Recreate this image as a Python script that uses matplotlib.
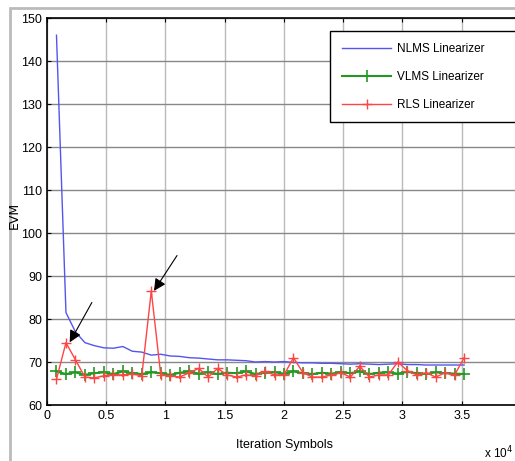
import matplotlib.pyplot as plt
from matplotlib.patches import Rectangle

plt.rcParams['font.family'] = ['Liberation Sans', 'DejaVu Sans']

# iteration symbols (x 10^4)
iters = [0.08, 0.16, 0.24, 0.32, 0.40, 0.48, 0.56, 0.64, 0.72, 0.80, 0.88,
         0.96, 1.04, 1.12, 1.20, 1.28, 1.36, 1.44, 1.52, 1.60, 1.68, 1.76,
         1.84, 1.92, 2.00, 2.08, 2.16, 2.24, 2.32, 2.40, 2.48, 2.56, 2.64,
         2.72, 2.80, 2.88, 2.96, 3.04, 3.12, 3.20, 3.28, 3.36, 3.44, 3.52]

nlms = [146, 81.5, 77, 74.5, 73.8, 73.3, 73.2, 73.6, 72.5, 72.3, 71.6,
        71.8, 71.4, 71.3, 71.0, 70.9, 70.7, 70.5, 70.5, 70.4, 70.3, 70.0,
        70.1, 70.0, 70.1, 69.9, 69.8, 69.8, 69.7, 69.7, 69.6, 69.5, 69.6,
        69.5, 69.4, 69.5, 69.6, 69.4, 69.4, 69.3, 69.3, 69.3, 69.3, 69.3]

vlms = [67.8, 67.2, 67.6, 67.0, 67.4, 67.6, 67.2, 67.8, 67.4, 67.2, 67.6,
        67.4, 67.0, 67.5, 67.8, 67.3, 67.6, 67.2, 67.5, 67.4, 67.8, 67.2,
        67.5, 67.6, 67.3, 67.8, 67.4, 67.2, 67.5, 67.3, 67.6, 67.4, 67.8,
        67.2, 67.5, 67.6, 67.3, 67.7, 67.4, 67.2, 67.6, 67.4, 67.3, 67.2]

rls = [66, 74.5, 70.5, 66.5, 66.3, 66.8, 67, 67, 67.2, 66.8, 86.5,
       67, 66.8, 66.5, 67.5, 68.5, 66.5, 68.5, 67, 66.5, 67, 66.8,
       67.8, 67, 67, 71, 67.5, 66.5, 66.5, 67, 67.5, 66.5, 69,
       66.5, 67, 67, 70, 68, 67, 67.5, 66.5, 67.5, 67, 71]

xticks = [0, 0.5, 1, 1.5, 2, 2.5, 3, 3.5]
xtick_labels = ['0', '0.5', '1', '1.5', '2', '2.5', '3', '3.5']

fig = plt.figure(figsize=(5.15, 4.61), dpi=100)
ax = fig.add_axes([47 / 515, 1 - 405 / 461, 474 / 515, 387 / 461])

ax.plot(iters, nlms, color='#5555ee', lw=1, label='NLMS Linearizer')
ax.plot(iters, vlms, color='#229922', lw=1.5, marker='+', ms=8, mew=1.2,
        label='VLMS Linearizer')
ax.plot(iters, rls, color='#ff4444', lw=1, marker='+', ms=7, mew=1,
        label='RLS Linearizer')

# arrows pointing at the RLS spikes
ax.annotate('', xy=(0.18, 74), xytext=(0.39, 84.4),
            arrowprops=dict(arrowstyle='-|>', color='black', lw=0.8, mutation_scale=18))
ax.annotate('', xy=(0.89, 86), xytext=(1.11, 95.3),
            arrowprops=dict(arrowstyle='-|>', color='black', lw=0.8, mutation_scale=18))

ax.set_xlim(0, 4)
ax.set_ylim(60, 150)
ax.set_xticks(xticks)
ax.set_xticklabels(xtick_labels)
ax.set_yticks(range(60, 151, 10))
ax.tick_params(direction='in', top=True, right=True, labelsize=9, length=3)
ax.grid(axis='y', color='#888888', lw=1)
ax.grid(axis='x', color='#bbbbbb', lw=1)
ax.set_axisbelow(True)
for s in ax.spines.values():
    s.set_linewidth(1.2)

fig.text(285 / 515, 1 - 445 / 461, 'Iteration Symbols', ha='center', va='center', fontsize=9)
fig.text(14 / 515, 1 - 215 / 461, 'EVM', rotation=90, ha='center', va='center',
         fontsize=9, family='DejaVu Sans')
fig.text(484 / 515, 1 - 453 / 461, 'x 10$^4$', ha='left', va='center', fontsize=8.5)

ax.legend(loc='upper left', bbox_to_anchor=(330 / 515, 1 - 122 / 461, 200 / 515, 91 / 461),
          bbox_transform=fig.transFigure, mode='expand', fancybox=False,
          edgecolor='black', framealpha=1, fontsize=8.5, handlelength=4.2,
          handletextpad=0.5, labelspacing=1.35, borderpad=1.0, borderaxespad=0)

fig.patches.append(Rectangle((10 / 515, -0.1), 1.2, 1.1 - 8 / 461,
                             transform=fig.transFigure, fill=False,
                             edgecolor='#bbbbbb', lw=2))

fig.savefig('out.png', dpi=100)
